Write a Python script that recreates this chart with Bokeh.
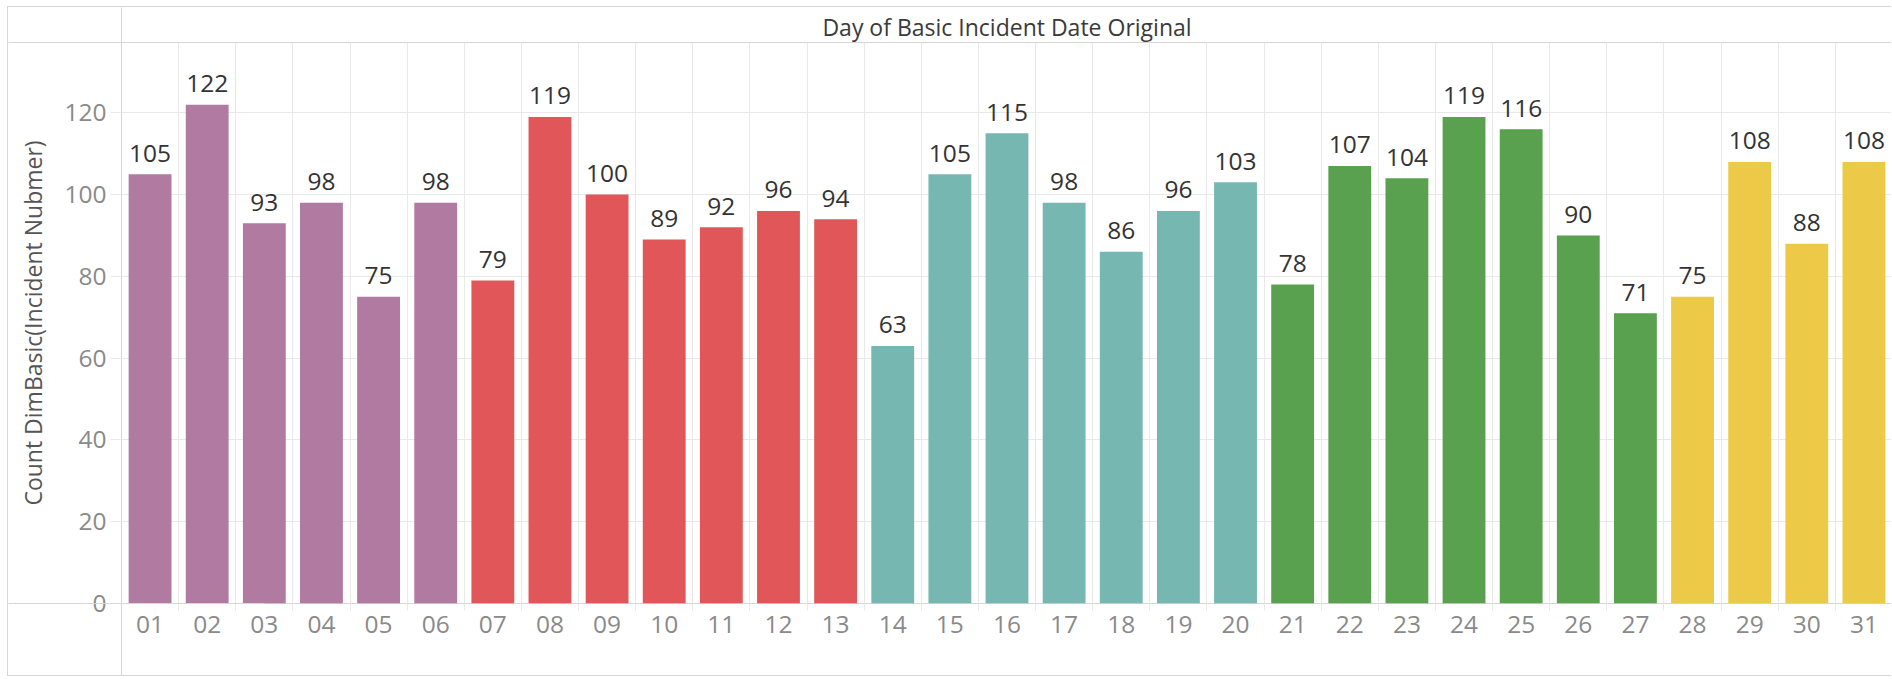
from bokeh.plotting import figure
from bokeh.models import (FactorRange, Range1d, ColumnDataSource, FixedTicker,
                          LinearAxis)
from bokeh.embed import file_html
from bokeh.resources import INLINE
from bokeh.core.properties import value

# ---------------- data ----------------
days = ["01", "02", "03", "04", "05", "06", "07", "08", "09", "10", "11", "12", "13",
        "14", "15", "16", "17", "18", "19", "20", "21", "22", "23", "24", "25", "26",
        "27", "28", "29", "30", "31"]
counts = [105, 122, 93, 98, 75, 98, 79, 119, 100, 89, 92, 96, 94, 63, 105, 115, 98,
          86, 96, 103, 78, 107, 104, 119, 116, 90, 71, 75, 108, 88, 108]
week = [1, 1, 1, 1, 1, 1, 2, 2, 2, 2, 2, 2, 2, 3, 3, 3, 3, 3, 3, 3,
        4, 4, 4, 4, 4, 4, 4, 5, 5, 5, 5]
y_ticks = [0, 20, 40, 60, 80, 100, 120]
header_text = "Day of Basic Incident Date Original"
y_label = "Count DimBasic(Incident Nubmer)"

# ---------------- styles ----------------
week_colors = {1: "#b07aa1", 2: "#e15759", 3: "#76b7b2", 4: "#59a14f", 5: "#edc948"}
FONT = "Open Sans"
GRID = "#e9e9e9"
SEP = "#d6d6d6"
Y_TOP = 137.2

src = ColumnDataSource(dict(
    day=days,
    count=counts,
    label=[str(c) for c in counts],
    color=[week_colors[w] for w in week],
))

W, H = 1884, 670
LEFT, TOP, FRAME_BOTTOM = 113, 35, 596
p = figure(width=W, height=H,
           x_range=FactorRange(factors=days, range_padding=0),
           y_range=Range1d(0, Y_TOP),
           output_backend="svg", toolbar_location=None,
           title_location=None,
           min_border_left=LEFT, min_border_right=0,
           min_border_top=TOP, min_border_bottom=H - FRAME_BOTTOM,
           styles={"margin-left": "7px", "margin-top": "6px",
                   "border-top": f"1px solid {SEP}",
                   "border-left": f"1px solid {SEP}",
                   "border-bottom": f"1px solid {SEP}"})
p.outline_line_color = SEP
p.background_fill_color = "white"
p.border_fill_color = "white"

# grids: horizontal at y ticks, vertical at band boundaries (synthetic coords)
p.ygrid.ticker = FixedTicker(ticks=y_ticks)
p.ygrid.grid_line_color = GRID
p.xgrid.ticker = FixedTicker(ticks=list(range(len(days) + 1)))
p.xgrid.grid_line_color = GRID

# bars and labels
p.vbar(x="day", top="count", width=0.75, source=src, fill_color="color", line_color=None)
p.text(x="day", y="count", text="label", source=src, text_align="center",
       text_baseline="alphabetic", y_offset=-21, text_font=value(FONT),
       text_font_size=value("24.5px"), text_color="#333333")

# y axis
ya = p.yaxis[0]
ya.ticker = FixedTicker(ticks=y_ticks)
ya.axis_label = y_label
ya.axis_label_text_font = FONT
ya.axis_label_text_font_size = "23px"
ya.axis_label_text_font_style = "normal"
ya.axis_label_text_color = "#555555"
ya.axis_label_standoff = 12
ya.major_label_text_font = FONT
ya.major_label_text_font_size = "24.5px"
ya.major_label_text_color = "#8a8a8a"
ya.major_label_standoff = 4
ya.major_tick_out = 11
ya.major_tick_in = 0
ya.major_tick_line_color = GRID
ya.minor_tick_out = 0
ya.minor_tick_in = 0
ya.minor_tick_line_color = None
ya.axis_line_color = None

# x axis (category labels)
xa = p.xaxis[0]
xa.major_label_text_font = FONT
xa.major_label_text_font_size = "24.5px"
xa.major_label_text_color = "#8a8a8a"
xa.major_label_standoff = 5
xa.major_tick_out = 0
xa.major_tick_in = 0
xa.minor_tick_out = 0
xa.major_tick_line_color = None
xa.axis_line_color = None


def tick_only_axis(minor, out, inward, color):
    ax = LinearAxis(ticker=FixedTicker(ticks=[], minor_ticks=minor))
    ax.major_tick_out = 0
    ax.major_tick_in = 0
    ax.major_label_standoff = 0
    ax.minor_tick_out = out
    ax.minor_tick_in = inward
    ax.minor_tick_line_color = color
    ax.axis_line_color = None
    return ax


# column header: text as the single label of a top axis, centred over the pane
center = len(days) / 2
hdr = LinearAxis(ticker=FixedTicker(ticks=[center]),
                 major_label_overrides={center: header_text})
hdr.major_label_text_font = FONT
hdr.major_label_text_font_size = "23px"
hdr.major_label_text_color = "#3a3a3a"
hdr.major_label_standoff = 0
hdr.major_tick_out = 0
hdr.major_tick_in = 0
hdr.major_tick_line_color = None
hdr.minor_tick_out = 0
hdr.minor_tick_in = 0
hdr.minor_tick_line_color = None
hdr.axis_line_color = None

# pane separators: outermost tick-only axes whose inward ticks reach the frame edges
p.below = [tick_only_axis(list(range(1, len(days) + 1)), 7, 0, GRID)] + list(p.below) \
          + [tick_only_axis([0], 41, 250, SEP)]
p.left = list(p.left) + [tick_only_axis([0, Y_TOP], 6, 250, SEP)]
p.above = [hdr, tick_only_axis([0], 0, 250, SEP)]

open("out.html", "w").write(file_html(p, INLINE))
